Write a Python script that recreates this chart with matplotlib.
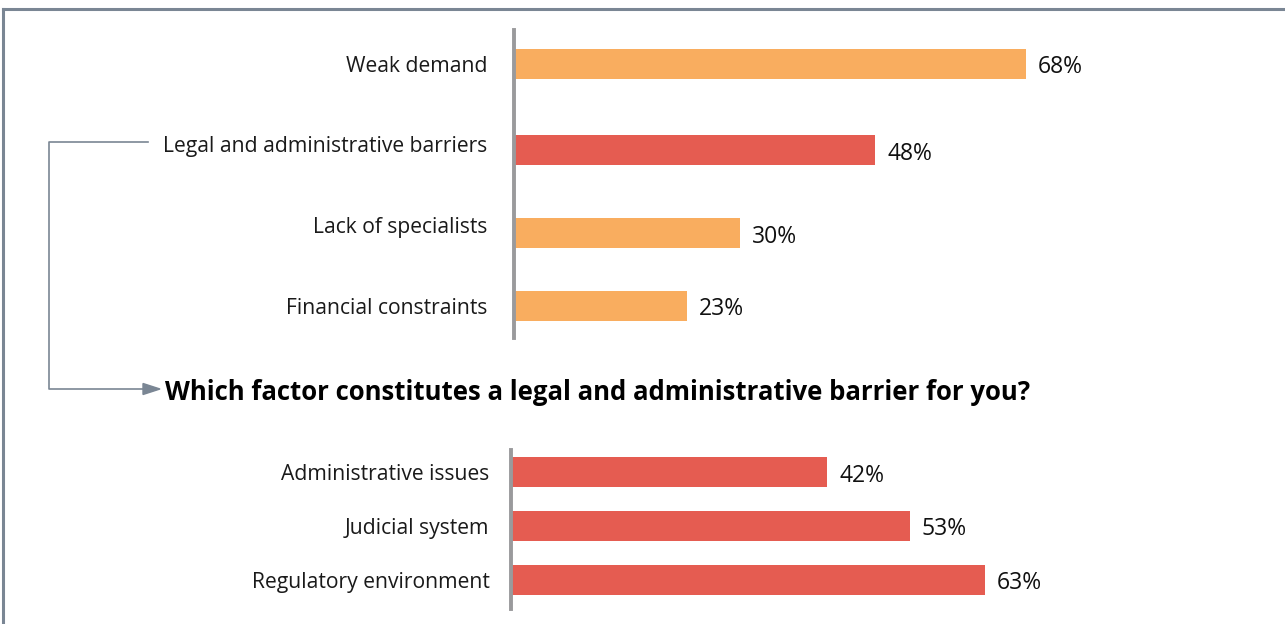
import numpy as np
import matplotlib.pyplot as plt
from matplotlib.lines import Line2D

plt.rcParams['font.family'] = ['Open Sans', 'DejaVu Sans']

# main obstacles
obstacles = ["Weak demand", "Legal and administrative barriers",
             "Lack of specialists", "Financial constraints"]
obstacle_pct = [68, 48, 30, 23]

# breakdown of the legal / administrative barrier
legal_factors = ["Administrative issues", "Judicial system", "Regulatory environment"]
legal_pct = [42, 53, 63]

title_text = "Which factor constitutes a legal and administrative barrier for you?"

ORANGE = "#f9ad5f"
RED = "#e55c51"
FRAME = "#7a8694"
AXIS_GRAY = "#9a9a9c"

W, H = 1285, 624
fig = plt.figure(figsize=(W / 100, H / 100), dpi=100)


def px_box(x0, y0, x1, y1):
    # pixel box (top-left origin) -> figure fraction rect
    return [x0 / W, 1 - y1 / H, (x1 - x0) / W, (y1 - y0) / H]


def style_axis(ax, pad):
    for s in ["top", "right", "bottom"]:
        ax.spines[s].set_visible(False)
    ax.spines["left"].set_color(AXIS_GRAY)
    ax.spines["left"].set_linewidth(2.8)
    ax.set_xticks([])
    ax.tick_params(axis="y", length=0, pad=pad, labelsize=15.2, labelcolor="#1a1a1a")
    ax.set_xlim(0, 100)


def pct_labels(ax, ypos, values):
    for y, v in zip(ypos, values):
        ax.annotate(f"{v}%", (v, y), xytext=(8.5, -2.5), textcoords="offset points",
                    va="center", ha="left", fontsize=16.5, color="#111111")


# upper chart: labels on an even grid, bars nudged a little off it
ax1 = fig.add_axes(px_box(514, 30, 1267, 338))
tick1 = np.arange(len(obstacles))
bar1 = tick1 + np.array([0.0, 0.07, 0.1, 0.0])
colors1 = [RED if "Legal" in c else ORANGE for c in obstacles]
ax1.barh(bar1, obstacle_pct, height=0.37, color=colors1)
ax1.set_yticks(tick1, obstacles)
ax1.set_ylim(3.40, -0.42)
style_axis(ax1, 19)
pct_labels(ax1, bar1, obstacle_pct)

# lower chart
ax2 = fig.add_axes(px_box(511, 450, 1264, 609))
y2 = np.arange(len(legal_factors))
ax2.barh(y2, legal_pct, height=0.555, color=RED)
ax2.set_yticks(y2, legal_factors)
ax2.set_ylim(2.54, -0.41)
style_axis(ax2, 15.5)
pct_labels(ax2, y2, legal_pct)

# question heading
fig.text(165 / W, 1 - 392 / H, title_text, fontsize=18.5, fontweight="bold",
         va="center", ha="left", color="#000000")

# outer frame (top and left edges)
fig.add_artist(Line2D([3 / W, 1], [1 - 9 / H, 1 - 9 / H], color=FRAME, lw=2.2))
fig.add_artist(Line2D([3 / W, 3 / W], [1 - 9 / H, 0], color=FRAME, lw=2.2))

# connector from "Legal and administrative barriers" to the question
cx = [148 / W, 49 / W, 49 / W, 146 / W]
cy = [1 - 142 / H, 1 - 142 / H, 1 - 389 / H, 1 - 389 / H]
fig.add_artist(Line2D(cx, cy, color=FRAME, lw=1.2))
fig.add_artist(plt.Polygon([[143 / W, 1 - 383.5 / H], [160 / W, 1 - 389 / H],
                            [143 / W, 1 - 394.5 / H]], closed=True,
                           transform=fig.transFigure, color=FRAME))

fig.savefig("out.png", dpi=100, facecolor="white")
